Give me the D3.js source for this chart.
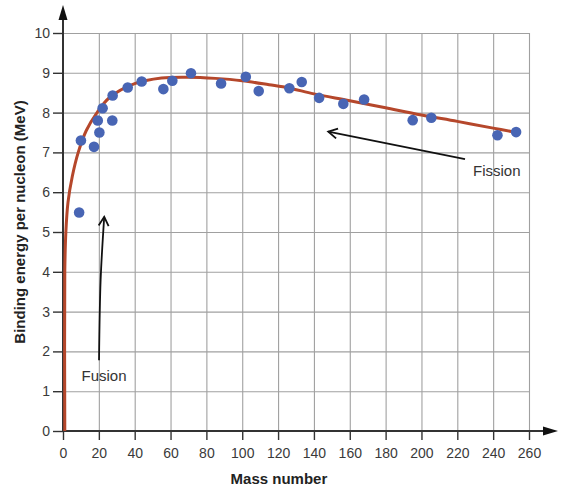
<!DOCTYPE html>
<html>
<head>
<meta charset="utf-8">
<script src="https://cdn.jsdelivr.net/npm/d3@7"></script>
<style>
  body { margin: 0; background: #fff; }
  svg { font-family: "Liberation Sans", Arial, sans-serif; }
</style>
</head>
<body>
<div class="canvas"></div>
<script>
// measured points (mass number, binding energy per nucleon in MeV)
const massNumber = [9, 10, 17.3, 19.4, 20.3, 22.1, 27.5, 27.7, 36.1, 43.9, 56, 61, 71.4,
  88.2, 102, 109.2, 126.3, 133.2, 142.9, 156.4, 168, 195.1, 205.5, 242.4, 252.8];
const bindingEnergy = [5.49, 7.3, 7.14, 7.8, 7.5, 8.11, 7.8, 8.43, 8.63, 8.78, 8.59, 8.8, 8.99,
  8.73, 8.9, 8.54, 8.61, 8.77, 8.37, 8.22, 8.33, 7.81, 7.87, 7.43, 7.51];

// fitted curve
const curveMass = [1, 1, 1.6, 2.8, 5.2, 8.5, 13, 19, 26, 40, 55, 70, 85, 100, 115, 126, 140, 160,
  180, 200, 220, 240, 252];
const curveEnergy = [0, 4, 5, 5.75, 6.4, 7.0, 7.55, 8.0, 8.38, 8.73, 8.87, 8.89, 8.86, 8.8,
  8.7, 8.62, 8.47, 8.3, 8.12, 7.94, 7.78, 7.61, 7.51];

const xTickValues = [0, 20, 40, 60, 80, 100, 120, 140, 160, 180, 200, 220, 240, 260];
const yTickValues = [0, 1, 2, 3, 4, 5, 6, 7, 8, 9, 10];

const w = 580;
const h = 500;
const margin = { top: 33, right: 51, bottom: 69, left: 63 };
const graphWidth = w - margin.left - margin.right;
const graphHeight = h - margin.top - margin.bottom;

const svg = d3.select(".canvas")
  .append("svg")
  .attr("width", w)
  .attr("height", h);

// arrow heads
const defs = svg.append("defs");
defs.append("marker")
  .attr("id", "open-head")
  .attr("viewBox", "-10 -6 12 12")
  .attr("refX", 0)
  .attr("refY", 0)
  .attr("markerWidth", 12)
  .attr("markerHeight", 12)
  .attr("markerUnits", "userSpaceOnUse")
  .attr("orient", "auto")
  .append("path")
  .attr("d", "M-9,-5 L0,0 L-9,5")
  .attr("fill", "none")
  .attr("stroke", "#111")
  .attr("stroke-width", 1.8);

const graph = svg.append("g")
  .attr("transform", `translate(${margin.left}, ${margin.top})`);

// scales
const x = d3.scaleLinear().domain([0, 260]).range([0, graphWidth]);
const y = d3.scaleLinear().domain([0, 10]).range([graphHeight, 0]);

// grid
graph.append("g")
  .attr("class", "grid-x")
  .call(d3.axisBottom(x).tickValues(xTickValues.slice(1)).tickSize(graphHeight).tickFormat(""))
  .call(g => g.select(".domain").remove())
  .call(g => g.selectAll("line").attr("stroke", "#a0a0a0").attr("stroke-width", 1.1));

graph.append("g")
  .attr("class", "grid-y")
  .call(d3.axisRight(y).tickValues(yTickValues.slice(1)).tickSize(graphWidth).tickFormat(""))
  .call(g => g.select(".domain").remove())
  .call(g => g.selectAll("line").attr("stroke", "#a0a0a0").attr("stroke-width", 1.1));

// axes
const xAxisGroup = graph.append("g")
  .attr("transform", `translate(0, ${graphHeight})`)
  .call(d3.axisBottom(x).tickValues(xTickValues).tickSize(9).tickPadding(8).tickSizeOuter(0));
const yAxisGroup = graph.append("g")
  .call(d3.axisLeft(y).tickValues(yTickValues).tickSize(10).tickPadding(3).tickSizeOuter(0));

[xAxisGroup, yAxisGroup].forEach(g => {
  g.select(".domain").remove();
  g.selectAll("line").attr("stroke", "#333").attr("stroke-width", 1.4);
  g.selectAll("text").attr("font-size", 14).attr("fill", "#3a3a3a")
    .attr("font-family", "\"Liberation Sans\", Arial, sans-serif");
});

// axis lines with filled arrows
graph.append("line")
  .attr("x1", x(0)).attr("x2", graphWidth + 15)
  .attr("y1", graphHeight).attr("y2", graphHeight)
  .attr("stroke", "#333").attr("stroke-width", 2);
graph.append("path")
  .attr("d", `M${graphWidth + 29},${graphHeight} L${graphWidth + 14},${graphHeight - 4.5} L${graphWidth + 14},${graphHeight + 4.5} Z`)
  .attr("fill", "#111");
graph.append("line")
  .attr("x1", x(0)).attr("x2", x(0))
  .attr("y1", graphHeight).attr("y2", -14)
  .attr("stroke", "#333").attr("stroke-width", 2);
graph.append("path")
  .attr("d", `M${x(0)},-28 L${x(0) - 4.5},-13 L${x(0) + 4.5},-13 Z`)
  .attr("fill", "#111");

// fitted curve
const curveData = curveMass.map((m, i) => ({ m, e: curveEnergy[i] }));
graph.append("path")
  .datum(curveData)
  .attr("fill", "none")
  .attr("stroke", "#b5472b")
  .attr("stroke-width", 3)
  .attr("d", d3.line().x(d => x(d.m)).y(d => y(d.e)).curve(d3.curveCatmullRom.alpha(0.5)));

// points
graph.selectAll("circle")
  .data(massNumber.map((m, i) => ({ m, e: bindingEnergy[i] })))
  .enter()
  .append("circle")
  .attr("cx", d => x(d.m))
  .attr("cy", d => y(d.e))
  .attr("r", 5.3)
  .attr("fill", "#4865b4");

// annotations
graph.append("path")
  .attr("d", d3.line().curve(d3.curveCatmullRom)([[x(20.1), y(1.78)], [x(21), y(3.8)], [x(23), y(5.38)]]))
  .attr("fill", "none")
  .attr("stroke", "#111")
  .attr("stroke-width", 1.8)
  .attr("marker-end", "url(#open-head)");
graph.append("text")
  .attr("x", x(22.9)).attr("y", y(1.26))
  .attr("text-anchor", "middle")
  .attr("font-size", 15).attr("fill", "#333")
  .text("Fusion");

graph.append("line")
  .attr("x1", x(224.3)).attr("y1", y(6.83))
  .attr("x2", x(148)).attr("y2", y(7.52))
  .attr("stroke", "#111")
  .attr("stroke-width", 1.8)
  .attr("marker-end", "url(#open-head)");
graph.append("text")
  .attr("x", x(242)).attr("y", y(6.41))
  .attr("text-anchor", "middle")
  .attr("font-size", 15).attr("fill", "#333")
  .text("Fission");

// axis titles
svg.append("text")
  .attr("x", margin.left + x(120.5)).attr("y", 484)
  .attr("text-anchor", "middle")
  .attr("font-size", 15).attr("font-weight", "bold").attr("fill", "#222")
  .text("Mass number");
svg.append("text")
  .attr("transform", `translate(25, 222) rotate(-90)`)
  .attr("text-anchor", "middle")
  .attr("font-size", 15).attr("font-weight", "bold").attr("fill", "#222")
  .text("Binding energy per nucleon (MeV)");
</script>
</body>
</html>
